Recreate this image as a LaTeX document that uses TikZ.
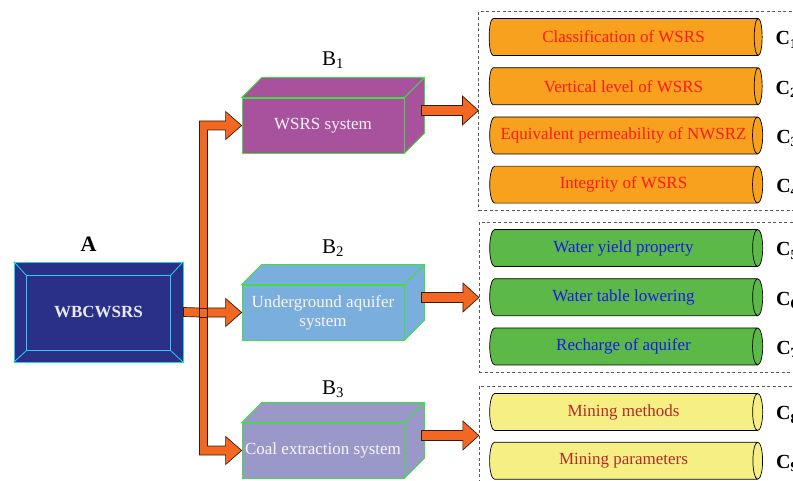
\documentclass[tikz,border=0pt]{standalone}
\usepackage{fontspec}
\setmainfont{Liberation Serif}
\usetikzlibrary{positioning,calc,fit,shapes.geometric}
\tikzset{>=latex}

\definecolor{navy}{HTML}{2A3088}
\definecolor{bevel}{HTML}{1ED5E6}
\definecolor{edgegreen}{HTML}{40DE40}
\definecolor{purpleB}{HTML}{A8529E}
\definecolor{blueB}{HTML}{7AAEDD}
\definecolor{lilacB}{HTML}{9A98C8}
\definecolor{arrowfill}{HTML}{F26822}
\definecolor{arrowline}{HTML}{3A1A0A}
\definecolor{tubeorange}{HTML}{F7A11E}
\definecolor{tubegreen}{HTML}{5CB947}
\definecolor{tubeyellow}{HTML}{F6EF84}
\definecolor{txtred}{HTML}{FF1A1A}
\definecolor{txtblue}{HTML}{1A1AE6}
\definecolor{txtbrown}{HTML}{B52B27}

\begin{document}
\begin{tikzpicture}[x=1pt,y=-1pt,
    cube/.style={draw=edgegreen, line width=0.8pt, minimum width=162pt, minimum height=55pt,
      inner sep=0pt, text=white!94!purpleB, align=center, font=\fontsize{17}{19}\selectfont},
    face/.style={draw=edgegreen, line width=0.8pt, line join=round},
    tube/.style={cylinder, draw=black, line width=0.7pt, minimum height=273pt, minimum width=37pt,
      aspect=0.65, inner sep=0pt, font=\fontsize{17}{19}\selectfont},
    clabel/.style={anchor=base west, inner sep=0pt, font=\fontsize{20}{22}\selectfont\bfseries},
    blabel/.style={anchor=base, inner sep=0pt, font=\fontsize{21}{23}\selectfont},
    group/.style={draw=black!65, line width=0.8pt, dash pattern=on 3pt off 2.5pt, inner xsep=10pt, inner ysep=7pt},
    blockarrow/.style={fill=arrowfill, draw=arrowline, line width=0.7pt, line join=miter}]
  \useasboundingbox (0,0) rectangle (793,481);
  \clip (0,0) rectangle (793,481);

  % goal A
  \node[fill=navy, draw=bevel, line width=0.8pt, minimum width=169pt, minimum height=100pt,
    inner sep=0pt, text=white!90!navy, font=\fontsize{17}{19}\selectfont\bfseries] (Abox) at (98.5,312) {WBCWSRS};
  \draw[bevel, line width=0.8pt] ($(Abox.north west)+(13,14)$) rectangle ($(Abox.south east)+(-13,-12)$);
  \draw[bevel, line width=0.8pt] (Abox.north west) -- ++(13,14) (Abox.north east) -- ++(-13,14)
    (Abox.south west) -- ++(13,-12) (Abox.south east) -- ++(-13,-12);
  \node[blabel, font=\fontsize{22}{24}\selectfont\bfseries] at ($(Abox.north)+(-10,-10)$) {A};

  % criteria B
  \node[cube, fill=purpleB] (B1) at (323,125.5) {WSRS system};
  \node[cube, fill=blueB] (B2) at (323,312.5) {Underground aquifer\\system};
  \node[cube, fill=lilacB] (B3) at (323,450.5) {Coal extraction system};
  \foreach \b/\c in {B1/purpleB, B2/blueB, B3/lilacB}{
    \filldraw[face, fill=\c] (\b.north west) -- ++(20,-20) -- ($(\b.north east)+(20,-20)$) -- (\b.north east) -- cycle;
    \filldraw[face, fill=\c] (\b.north east) -- ++(20,-20) -- ($(\b.south east)+(20,-20)$) -- (\b.south east) -- cycle;
  }
  \node[blabel] at ($(B1.north)+(10,-32)$) {B\textsubscript{1}};
  \node[blabel] at ($(B2.north)+(10,-31)$) {B\textsubscript{2}};
  \node[blabel] at ($(B3.north)+(10,-28)$) {B\textsubscript{3}};

  % indices C
  \node[tube, fill=tubeorange, text=txtred] (C1) at (623.5,37) {Classification of WSRS};
  \node[tube, fill=tubeorange, text=txtred, below=11.5pt of C1] (C2) {Vertical level of WSRS};
  \node[tube, fill=tubeorange, text=txtred, below=11.5pt of C2] (C3) {Equivalent permeability of NWSRZ};
  \node[tube, fill=tubeorange, text=txtred, below=11.5pt of C3] (C4) {Integrity of WSRS};
  \node[tube, fill=tubegreen, text=txtblue] (C5) at (623.5,248) {Water yield property};
  \node[tube, fill=tubegreen, text=txtblue, below=11.5pt of C5] (C6) {Water table lowering};
  \node[tube, fill=tubegreen, text=txtblue, below=11.5pt of C6] (C7) {Recharge of aquifer};
  \node[tube, fill=tubeyellow, text=txtbrown] (C8) at (623.5,412) {Mining methods};
  \node[tube, fill=tubeyellow, text=txtbrown, below=11pt of C8] (C9) {Mining parameters};
  \foreach \i in {1,...,9}
    \node[clabel] (L\i) at ($(C\i.east)+(13,8)$) {C\textsubscript{\i}};

  \node[group, fit=(C1)(C4)(L1)] (G1) {};
  \node[group, fit=(C5)(C7)(L5)] (G2) {};
  \node[group, fit=(C8)(C9)(L8)] (G3) {};

  % arrows A -> B
  \coordinate (tw) at ($(Abox.east)+(16,0)$);
  \coordinate (te) at ($(Abox.east)+(24,0)$);
  \path[blockarrow] ($(B1.west -| tw)+(0,-4.5)$) -- ($(B1.west)+(-16,-4.5)$) -- ++(0,-9.5) -- (B1.west) -- ++(-16,14) -- ++(0,-9.5) -- ($(B1.west -| te)+(0,4.5)$)
    -- ($(B2.west -| te)+(0,-4.5)$) -- ($(B2.west)+(-16,-4.5)$) -- ++(0,-9.5) -- (B2.west) -- ++(-16,14) -- ++(0,-9.5) -- ($(B2.west -| te)+(0,4.5)$)
    -- ($(B3.west -| te)+(0,-4.5)$) -- ($(B3.west)+(-16,-4.5)$) -- ++(0,-9.5) -- (B3.west) -- ++(-16,14) -- ++(0,-9.5) -- ($(B3.west -| tw)+(0,4.5)$)
    -- ($(B2.west -| tw)+(0,4.5)$) -- ($(Abox.east)+(0,4.5)$) -- ($(Abox.east)+(0,-4.5)$) -- ($(B2.west -| tw)+(0,-4.5)$) -- cycle;
  \draw[arrowline, line width=0.7pt] ($(B2.west -| tw)+(0,-4.5)$) -- ($(B2.west -| tw)+(0,4.5)$)
    ($(B2.west -| te)+(0,-4.5)$) -- ($(B2.west -| te)+(0,4.5)$)
    ($(B2.west -| tw)+(0,-4.5)$) -- ($(B2.west -| te)+(0,-4.5)$)
    ($(B2.west -| tw)+(0,4.5)$) -- ($(B2.west -| te)+(0,4.5)$);

  % arrows B -> C
  \foreach \b/\g in {B1/G1, B2/G2, B3/G3}{
    \coordinate (r) at ($(\b.east)+(17,-15)$);
    \path[blockarrow] ($(r)+(0,-5)$) -- ($(r -| \g.west)+(-16,-5)$) -- ++(0,-9.5) -- (r -| \g.west)
      -- ++(-16,14.5) -- ++(0,-9.5) -- ($(r)+(0,5)$) -- cycle;
  }
\end{tikzpicture}
\end{document}
